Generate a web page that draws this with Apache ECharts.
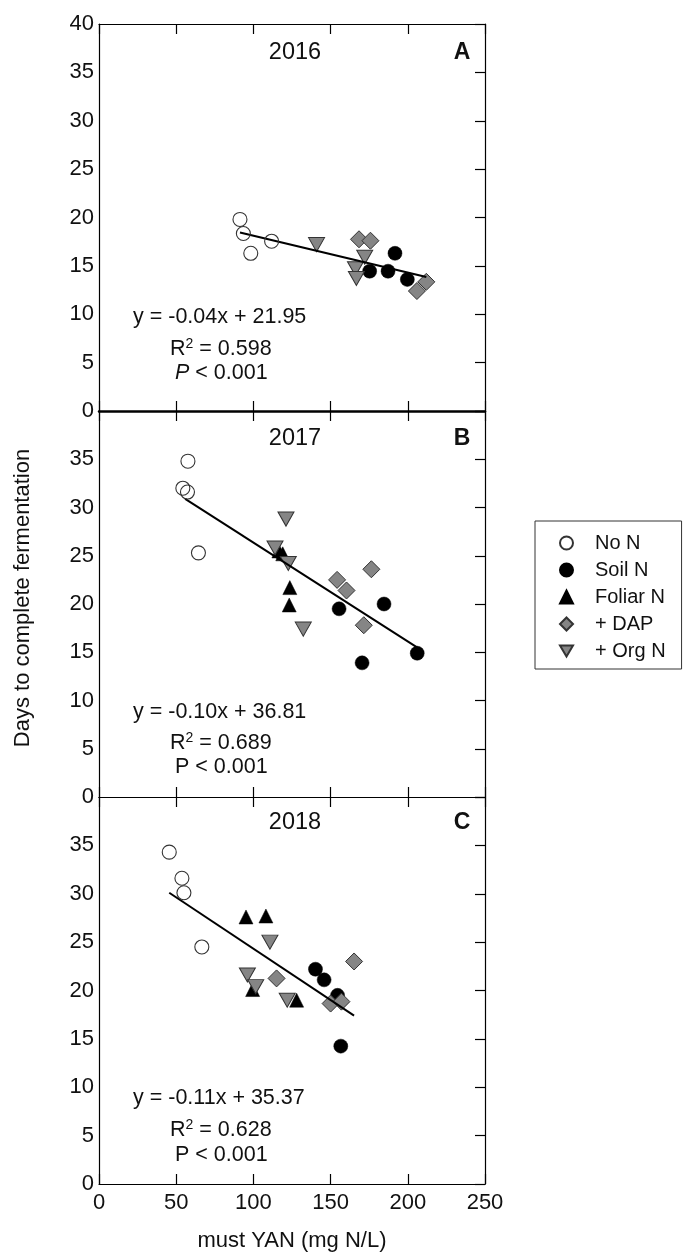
<!DOCTYPE html>
<html>
<head>
<meta charset="utf-8">
<script src="https://cdn.jsdelivr.net/npm/echarts@6/dist/echarts.min.js"></script>
<style>
  html, body { margin: 0; padding: 0; background: #fff; }
  #main { width: 683px; height: 1255px; }
</style>
</head>
<body>
<div id="main"></div>
<script>
// 数据：每年各处理的 [YAN, 天数]
var years = ['2016', '2017', '2018'];
var panelLetters = ['A', 'B', 'C'];
var treatments = ['No N', 'Soil N', 'Foliar N', '+ DAP', '+ Org N'];
var xTicks = [0, 50, 100, 150, 200, 250];
var yTicks = [0, 5, 10, 15, 20, 25, 30, 35, 40];

var noN2016 = [[91.3, 19.8], [93.5, 18.35], [98.3, 16.3], [111.8, 17.55]];
var soilN2016 = [[175.3, 14.45], [187.2, 14.45], [191.7, 16.3], [199.7, 13.6]];
var foliarN2016 = [];
var dap2016 = [[168.4, 17.75], [175.8, 17.6], [212, 13.35], [205.9, 12.4]];
var orgN2016 = [[140.9, 17.2], [172.1, 15.9], [166.1, 14.7], [166.7, 13.7]];
var fit2016 = [[91.3, 18.45], [212, 13.85]];

var noN2017 = [[57.6, 34.8], [54.3, 32.0], [57.3, 31.6], [64.4, 25.3]];
var soilN2017 = [[155.5, 19.5], [184.6, 20.0], [170.4, 13.9], [206.1, 14.9]];
var foliarN2017 = [[116.5, 25.5], [119, 25.2], [123.6, 21.7], [123.2, 19.9]];
var dap2017 = [[154.2, 22.5], [160.3, 21.4], [176.4, 23.6], [171.5, 17.8]];
var orgN2017 = [[121.1, 28.8], [114, 25.8], [122.6, 24.2], [132.3, 17.4]];
var fit2017 = [[55.8, 30.9], [206.5, 15.45]];

var noN2018 = [[45.5, 34.3], [53.7, 31.6], [55, 30.1], [66.6, 24.5]];
var soilN2018 = [[140.2, 22.2], [145.8, 21.1], [154.5, 19.5], [156.6, 14.25]];
var foliarN2018 = [[95.2, 27.6], [108.1, 27.7], [99.5, 20.1], [128, 19.0]];
var dap2018 = [[115, 21.25], [165.2, 23.0], [150, 18.65], [157, 18.85]];
var orgN2018 = [[110.7, 25.0], [96.1, 21.6], [101.5, 20.4], [121.9, 19.0]];
var fit2018 = [[45.5, 30.1], [165.2, 17.4]];

var equations = ['y = -0.04x + 21.95', 'y = -0.10x + 36.81', 'y = -0.11x + 35.37'];
var r2Values = ['0.598', '0.689', '0.628'];
var pTexts = ['< 0.001', '< 0.001', '< 0.001'];

var panelData = [
	[noN2016, soilN2016, foliarN2016, dap2016, orgN2016, fit2016],
	[noN2017, soilN2017, foliarN2017, dap2017, orgN2017, fit2017],
	[noN2018, soilN2018, foliarN2018, dap2018, orgN2018, fit2018]
];

var FONT = '"Liberation Sans", Arial, sans-serif';
var gridTops = [24, 411, 797];
var gridHeights = [387, 386, 387];

// 各处理的符号样式
var downTri = 'path://M0,0 L20,0 L10,17 Z';
var markerStyles = [
	{ symbol: 'circle', size: 14, itemStyle: { color: 'rgba(255,255,255,0)', borderColor: '#333', borderWidth: 1.1, opacity: 1 } },
	{ symbol: 'circle', size: 14, itemStyle: { color: '#000', borderColor: '#000', borderWidth: 0.5, opacity: 1 } },
	{ symbol: 'triangle', size: 14, itemStyle: { color: '#000', borderColor: '#000', borderWidth: 0.5, opacity: 1 } },
	{ symbol: 'diamond', size: 17, itemStyle: { color: '#858585', borderColor: '#333', borderWidth: 1, opacity: 1 } },
	{ symbol: downTri, size: [16, 14], itemStyle: { color: '#858585', borderColor: '#333', borderWidth: 1, opacity: 1 } }
];

var grids = [], xAxes = [], yAxes = [], series = [], graphics = [];

for (var i = 0; i < 3; i++) {
	grids.push({ left: 99, width: 386, top: gridTops[i], height: gridHeights[i] });

	// 下方 x 轴
	xAxes.push({
		gridIndex: i, type: 'value', position: 'bottom', min: 0, max: 250, interval: 50,
		axisLine: { show: true, onZero: false, lineStyle: { color: '#000', width: i === 0 ? 2.5 : 1.2 } },
		axisTick: { show: true, inside: true, length: 10, lineStyle: { color: '#000', width: 1.2 } },
		axisLabel: { show: i === 2, color: '#111', fontSize: 22, fontFamily: FONT, margin: 8 },
		splitLine: { show: false },
		name: i === 2 ? 'must YAN (mg N/L)' : '',
		nameLocation: 'middle', nameGap: 46,
		nameTextStyle: { color: '#111', fontSize: 22, fontFamily: FONT }
	});
	// 上方 x 轴（只画刻度）
	xAxes.push({
		gridIndex: i, type: 'value', position: 'top', min: 0, max: 250, interval: 50,
		axisLine: { show: true, onZero: false, lineStyle: { color: '#000', width: 1.2 } },
		axisTick: { show: true, inside: true, length: 10, lineStyle: { color: '#000', width: 1.2 } },
		axisLabel: { show: false },
		splitLine: { show: false }
	});
	// 左侧 y 轴
	yAxes.push({
		gridIndex: i, type: 'value', position: 'left', min: 0, max: 40, interval: 5,
		axisLine: { show: true, onZero: false, lineStyle: { color: '#000', width: 1.2 } },
		axisTick: { show: false },
		axisLabel: {
			color: '#111', fontSize: 22, fontFamily: FONT, margin: 5,
			formatter: (function (idx) {
				return function (v) { return (idx > 0 && v === 40) ? '' : String(v); };
			})(i)
		},
		splitLine: { show: false }
	});
	// 右侧 y 轴（只画刻度）
	yAxes.push({
		gridIndex: i, type: 'value', position: 'right', min: 0, max: 40, interval: 5,
		axisLine: { show: true, onZero: false, lineStyle: { color: '#000', width: 1.2 } },
		axisTick: { show: true, inside: true, length: 10, lineStyle: { color: '#000', width: 1.2 } },
		axisLabel: { show: false },
		splitLine: { show: false }
	});

	// 回归线
	series.push({
		type: 'line', name: 'fit' + years[i],
		xAxisIndex: i * 2, yAxisIndex: i * 2,
		data: panelData[i][5], showSymbol: false, symbol: 'none', silent: true,
		lineStyle: { color: '#000', width: 2 }, z: 3
	});

	for (var t = 0; t < treatments.length; t++) {
		var ms = markerStyles[t];
		series.push({
			type: 'scatter', name: treatments[t],
			xAxisIndex: i * 2, yAxisIndex: i * 2,
			data: panelData[i][t],
			symbol: ms.symbol, symbolSize: ms.size,
			itemStyle: ms.itemStyle, z: t === 0 ? 4 : 2
		});
	}

	// 年份、字母、方程
	var panelTop = gridTops[i];
	var yOff = [[29, 292.7, 325, 349.3], [27.3, 300.7, 332.3, 355.7], [26, 301, 332.7, 357.7]][i];
	graphics.push({
		type: 'text', x: 295, y: panelTop + yOff[0],
		style: { text: years[i], font: '23.5px ' + FONT, fill: '#111', align: 'center', verticalAlign: 'middle' }
	});
	graphics.push({
		type: 'text', x: 462, y: panelTop + yOff[0],
		style: { text: panelLetters[i], font: 'bold 23px ' + FONT, fill: '#111', align: 'center', verticalAlign: 'middle' }
	});
	graphics.push({
		type: 'text', x: 133, y: panelTop + yOff[1],
		style: { text: equations[i], font: '21.5px ' + FONT, fill: '#111', align: 'left', verticalAlign: 'middle' }
	});
	graphics.push({
		type: 'text', x: 170, y: panelTop + yOff[2],
		style: {
			text: 'R{sup|2} = ' + r2Values[i], font: '21.5px ' + FONT, fill: '#111',
			align: 'left', verticalAlign: 'middle',
			rich: { sup: { fontSize: 14, fontFamily: FONT, verticalAlign: 'top', padding: [0, 0, 10, 0] } }
		}
	});
	graphics.push({
		type: 'text', x: 175, y: panelTop + yOff[3],
		style: {
			text: (i === 0 ? '{it|P} ' : 'P ') + pTexts[i], font: '21.5px ' + FONT, fill: '#111',
			align: 'left', verticalAlign: 'middle',
			rich: { it: { fontStyle: 'italic', fontSize: 21.5, fontFamily: FONT } }
		}
	});
}

// y 轴标题
graphics.push({
	type: 'text', x: 23, y: 598, rotation: Math.PI / 2,
	style: { text: 'Days to complete fermentation', font: '22px ' + FONT, fill: '#111', align: 'center', verticalAlign: 'middle' }
});

var legendData = treatments.map(function (name, k) {
	return { name: name, icon: markerStyles[k].symbol };
});

var option = {
	animation: false,
	backgroundColor: '#fff',
	grid: grids,
	xAxis: xAxes,
	yAxis: yAxes,
	legend: {
		orient: 'vertical', left: 535, top: 521,
		data: legendData,
		itemWidth: 13, itemHeight: 13, itemGap: 7,
		padding: [12, 16, 8, 24],
		borderColor: '#333', borderWidth: 1,
		selectedMode: false,
		textStyle: { color: '#111', fontSize: 20, fontFamily: FONT, padding: [0, 0, 0, 17] }
	},
	graphic: graphics,
	series: series
};

var myChart = echarts.init(document.getElementById('main'), null, { renderer: 'canvas' });
myChart.setOption(option);
</script>
</body>
</html>
